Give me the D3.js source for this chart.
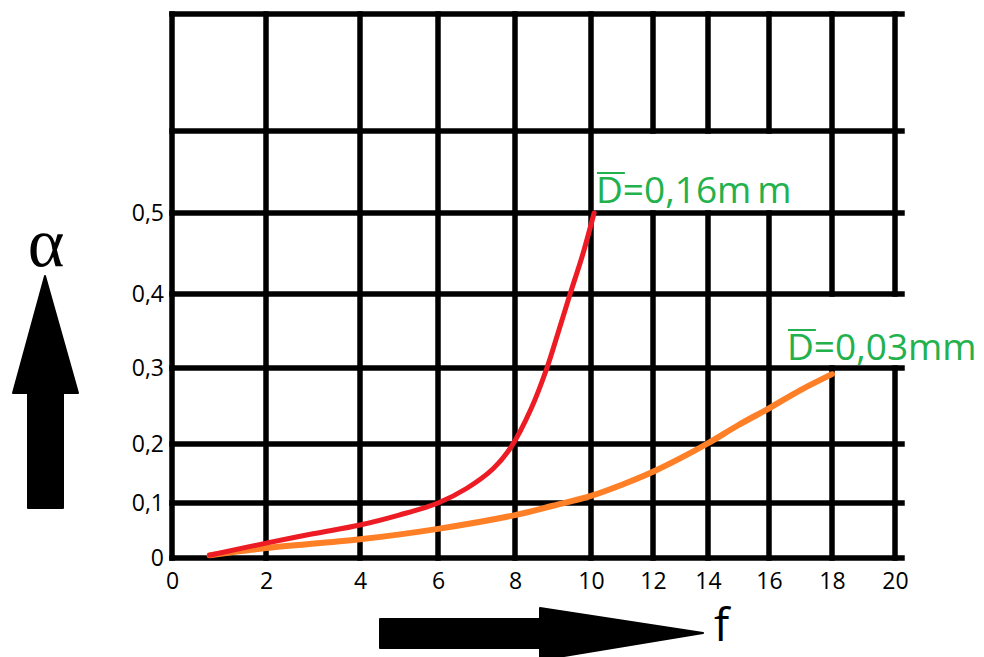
<!DOCTYPE html>
<html>
<head>
<meta charset="utf-8">
<script src="https://cdn.jsdelivr.net/npm/d3@7"></script>
<style>
  html, body { margin: 0; padding: 0; background: #fff; }
  svg { display: block; }
</style>
</head>
<body>
<script>
// ---- data ----
const fTicks = [0, 2, 4, 6, 8, 10, 12, 14, 16, 18, 20];
const fTickLabels = ["0", "2", "4", "6", "8", "10", "12", "14", "16", "18", "20"];
const alphaGridLevels = [0, 0.1, 0.2, 0.3, 0.4, 0.5, 0.6, 0.7];
const alphaTicks = [0, 0.1, 0.2, 0.3, 0.4, 0.5];
const alphaTickLabels = ["0", "0,1", "0,2", "0,3", "0,4", "0,5"];

const redF     = [0.8, 2, 3, 4, 5, 6, 6.75, 7.43, 7.9, 8.42, 8.84, 9.13, 9.45, 9.79, 10.1];
const redAlpha = [0.005, 0.027, 0.044, 0.06, 0.078, 0.1, 0.125, 0.158, 0.195, 0.246, 0.3, 0.347, 0.4, 0.45, 0.5];
const redLabel = ["0,16m", "m"];

const orangeF     = [0.8, 2, 4, 6, 8, 9, 10, 11, 12, 13, 14, 15, 16, 17, 18];
const orangeAlpha = [0.005, 0.018, 0.034, 0.053, 0.078, 0.095, 0.112, 0.131, 0.153, 0.176, 0.201, 0.225, 0.247, 0.271, 0.292];
const orangeLabel = ["0,03mm"];

const xTitle = "f";
const yTitle = "α";

// ---- layout (hand-drawn, uneven grid) ----
const W = 984, H = 657;
const xStops = [172, 266, 360, 438, 515, 591, 653, 708, 769, 832, 895];
const yStops = [558, 503, 444, 368, 294, 213, 131, 14];
const gridGaps = { 12: [0.5, 0.6], 14: [0.5, 0.6], 16: [0.5, 0.6], 18: [0.3, 0.4], 20: [0.3, 0.4] };

const x = d3.scaleLinear().domain(fTicks).range(xStops);
const y = d3.scaleLinear().domain(alphaGridLevels).range(yStops);

const svg = d3.select("body").append("svg").attr("width", W).attr("height", H)
  .style("background", "#fff");

// grid
const grid = svg.append("g").attr("stroke", "#000").attr("stroke-width", 5.5).attr("stroke-linecap", "square");
grid.selectAll("line.h").data(alphaGridLevels).join("line").attr("class", "h")
  .attr("x1", x(0)).attr("x2", x(20) + 7)
  .attr("y1", d => y(d)).attr("y2", d => y(d));

const vSegs = [];
fTicks.forEach(f => {
  const top = alphaGridLevels[alphaGridLevels.length - 1];
  const gap = gridGaps[f];
  if (gap) {
    vSegs.push({ f, a0: 0, a1: gap[0] });
    vSegs.push({ f, a0: gap[1], a1: top });
  } else {
    vSegs.push({ f, a0: 0, a1: top });
  }
});
grid.selectAll("line.v").data(vSegs).join("line").attr("class", "v")
  .attr("x1", d => x(d.f)).attr("x2", d => x(d.f))
  .attr("y1", d => y(d.a0)).attr("y2", d => y(d.a1));

// axes labels via d3 axes (ticks hidden, labels only)
const xAxis = d3.axisBottom(x).tickValues(fTicks).tickSize(0).tickPadding(0)
  .tickFormat((d, i) => fTickLabels[i]);
const gx = svg.append("g").attr("transform", `translate(0,${y(0) + 15})`).call(xAxis);
gx.select(".domain").remove();
gx.selectAll("text").attr("font-family", "'Open Sans', sans-serif").attr("font-size", 23)
  .attr("fill", "#000").attr("dy", "0.71em");

const yAxis = d3.axisLeft(y).tickValues(alphaTicks).tickSize(0).tickPadding(0)
  .tickFormat((d, i) => alphaTickLabels[i]);
const gy = svg.append("g").attr("transform", `translate(${x(0) - 8},0)`).call(yAxis);
gy.select(".domain").remove();
gy.selectAll("text").attr("font-family", "'Open Sans', sans-serif").attr("font-size", 23)
  .attr("fill", "#000");

// curves
const line = d3.line().x(d => x(d[0])).y(d => y(d[1])).curve(d3.curveCatmullRom.alpha(0.5));
const redPts = redF.map((f, i) => [f, redAlpha[i]]);
const orangePts = orangeF.map((f, i) => [f, orangeAlpha[i]]);

svg.append("path").datum(orangePts).attr("d", line).attr("fill", "none")
  .attr("stroke", "#ff7f27").attr("stroke-width", 6).attr("stroke-linecap", "round")
  .attr("stroke-linejoin", "round");
svg.append("path").datum(redPts).attr("d", line).attr("fill", "none")
  .attr("stroke", "#ed1c24").attr("stroke-width", 5).attr("stroke-linecap", "round")
  .attr("stroke-linejoin", "round");

// curve labels (D with overbar)
function curveLabel(px, py, parts, gapDx) {
  const t = svg.append("text").attr("x", px).attr("y", py)
    .attr("font-family", "'Open Sans', sans-serif").attr("font-size", 37).attr("fill", "#22b14c");
  const dSpan = t.append("tspan").text("D");
  t.append("tspan").text("=" + parts[0]);
  if (parts.length > 1) t.append("tspan").attr("dx", gapDx).text(parts[1]);
  const dw = dSpan.node().getComputedTextLength();
  svg.append("line").attr("x1", px + 1).attr("x2", px + dw + 2)
    .attr("y1", py - 30).attr("y2", py - 30)
    .attr("stroke", "#22b14c").attr("stroke-width", 2);
}
curveLabel(x(10) + 5, y(0.5) - 10, redLabel, 6);
curveLabel(x(18) - 45, y(0.3) - 8, orangeLabel, 0);

// axis arrows
svg.append("path")
  .attr("d", "M28,508 L28,393 L13,393 L45,276 L78,393 L63,393 L63,508 Z")
  .attr("fill", "#000").attr("stroke", "#000").attr("stroke-width", 2).attr("stroke-linejoin", "round");
svg.append("path")
  .attr("d", "M380,619 L540,619 L540,608 L703,633 L540,660 L540,648 L380,648 Z")
  .attr("fill", "#000").attr("stroke", "#000").attr("stroke-width", 2).attr("stroke-linejoin", "round");

svg.append("text").attr("x", 46).attr("y", 266).attr("text-anchor", "middle")
  .attr("font-family", "'Liberation Serif', 'DejaVu Serif', serif").attr("font-size", 70)
  .attr("fill", "#000").text(yTitle);
svg.append("text").attr("x", 714).attr("y", 641)
  .attr("font-family", "'Open Sans', sans-serif").attr("font-size", 45)
  .attr("fill", "#000").text(xTitle);
</script>
</body>
</html>
